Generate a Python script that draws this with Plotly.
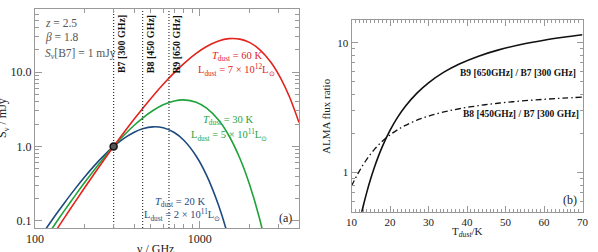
import numpy as np
import plotly.graph_objects as go

# ---------------- data: panel (a) ----------------
freq_ghz = [100, 110, 120, 135, 150, 175, 200, 230, 260, 300, 350, 400, 450, 520,
            600, 700, 800, 950, 1100, 1300, 1500, 1750, 2000, 2300, 2700, 3100, 3500, 4000]
s_60k = [0.02727, 0.03777, 0.05078, 0.07563, 0.1077, 0.1797, 0.2782, 0.4363, 0.6427, 1,
         1.588, 2.338, 3.251, 4.788, 6.869, 9.839, 13.04, 17.84, 22.1, 26.24, 28.21, 27.82,
         25.1, 20.29, 13.61, 8.266, 4.657, 2.095]
s_30k = [0.03579, 0.04916, 0.06551, 0.09615, 0.1348, 0.2182, 0.3268, 0.4905, 0.6887, 1,
         1.446, 1.927, 2.413, 3.046, 3.634, 4.093, 4.228, 3.93, 3.273, 2.262, 1.405, 0.6933,
         0.3119, 0.109, 0.02389]
s_20k = [0.04775, 0.06505, 0.0859, 0.1242, 0.1712, 0.2688, 0.3888, 0.5568, 0.7426, 1,
         1.304, 1.555, 1.731, 1.837, 1.783, 1.538, 1.211, 0.744, 0.4082, 0.1614, 0.05728,
         0.01404]
band_freq = [300, 450, 650]
band_names = ["B7 [300 GHz]", "B8 [450 GHz]", "B9 [650 GHz]"]
norm_freq = [300]
norm_flux = [1.0]

# ---------------- data: panel (b) ----------------
t_dust = [10, 11, 12, 13, 14, 15, 16, 17, 18, 20, 22, 24, 27, 30, 34, 38, 43, 48, 54, 60, 65, 70]
ratio_b9_b7 = [0.2146, 0.298, 0.4085, 0.5464, 0.7108, 0.8999, 1.111, 1.341, 1.588, 2.116,
               2.676, 3.248, 4.101, 4.924, 5.947, 6.875, 7.9, 8.791, 9.706, 10.48, 11.04, 11.54]
ratio_b8_b7 = [0.7895, 0.9022, 1.023, 1.147, 1.272, 1.396, 1.516, 1.633, 1.745, 1.954,
               2.143, 2.313, 2.536, 2.725, 2.935, 3.107, 3.282, 3.424, 3.561, 3.671, 3.748, 3.815]

RED = "#e3231c"
GREEN = "#1fa33a"
BLUE = "#1d4a80"
SERIF = "Liberation Serif"
FRAME = "#999999"

W, H = 598, 252
def px(x):
    return x / W
def py(y):
    return 1 - y / H

fig = go.Figure()

fig.add_trace(go.Scatter(x=freq_ghz[:len(s_20k)], y=s_20k, mode="lines", line=dict(color=BLUE, width=1.6, shape="spline"), xaxis="x", yaxis="y"))
fig.add_trace(go.Scatter(x=freq_ghz[:len(s_30k)], y=s_30k, mode="lines", line=dict(color=GREEN, width=1.6, shape="spline"), xaxis="x", yaxis="y"))
fig.add_trace(go.Scatter(x=freq_ghz[:len(s_60k)], y=s_60k, mode="lines", line=dict(color=RED, width=1.6, shape="spline"), xaxis="x", yaxis="y"))

for f in band_freq:
    fig.add_trace(go.Scatter(x=[f, f], y=[0.08, 70], mode="lines",
                             line=dict(color="#333", width=1.2, dash="1px,2px"), xaxis="x", yaxis="y"))

fig.add_trace(go.Scatter(x=norm_freq, y=norm_flux, mode="markers",
                         marker=dict(symbol="circle", size=7, color="#555", line=dict(color="#111", width=1.5)),
                         xaxis="x", yaxis="y"))

fig.add_trace(go.Scatter(x=t_dust, y=ratio_b9_b7, mode="lines", line=dict(color="#111", width=1.6, shape="spline"),
                         xaxis="x2", yaxis="y2"))
fig.add_trace(go.Scatter(x=t_dust, y=ratio_b8_b7, mode="lines",
                         line=dict(color="#111", width=1.3, shape="spline", dash="6px,3px,1.5px,3px"),
                         xaxis="x2", yaxis="y2"))

axcommon = dict(showline=True, linecolor=FRAME, linewidth=1, mirror="allticks", ticks="inside",
                tickcolor=FRAME, showgrid=False, zeroline=False, automargin=False)

fig.update_layout(
    width=W, height=H, margin=dict(l=0, r=0, t=0, b=0),
    paper_bgcolor="white", plot_bgcolor="white", showlegend=False,
    font=dict(family=SERIF, color="#222", size=12),
    xaxis=dict(type="log", range=[2, np.log10(4000)], domain=[px(35), px(299)], anchor="y",
               tickvals=[100, 1000], ticktext=["100", "1000"], ticklen=7,
               tickfont=dict(family=SERIF, size=12, color="#222"),
               minor=dict(ticks="inside", ticklen=4, tickcolor=FRAME,
                          tickvals=[200, 300, 400, 500, 600, 700, 800, 900, 2000, 3000, 4000]),
               **axcommon),
    yaxis=dict(type="log", range=[np.log10(0.08), np.log10(70)], domain=[1 - 228 / H, 1 - 9.3 / H], anchor="x",
               tickvals=[0.1, 1, 10], ticktext=["0.1", "1.0", "10.0"], ticklen=7,
               tickfont=dict(family=SERIF, size=12, color="#222"),
               minor=dict(ticks="inside", ticklen=4, tickcolor=FRAME,
                          tickvals=[0.2, 0.3, 0.4, 0.5, 0.6, 0.7, 0.8, 0.9, 2, 3, 4, 5, 6, 7, 8, 9,
                                    20, 30, 40, 50, 60, 70]),
               **axcommon),
    xaxis2=dict(type="linear", range=[10, 70], domain=[px(351.5), px(582.5)], anchor="y2",
                tickvals=[10, 20, 30, 40, 50, 60, 70], ticklen=6,
                tickfont=dict(family=SERIF, size=11, color="#222"),
                minor=dict(ticks="inside", ticklen=3, tickcolor=FRAME, dtick=1),
                **axcommon),
    yaxis2=dict(type="log", range=[np.log10(0.5), np.log10(15)], domain=[1 - 211.7 / H, 1 - 20 / H], anchor="x2",
                tickvals=[1, 10], ticktext=["1", "10"], ticklen=6,
                tickfont=dict(family=SERIF, size=11, color="#222"),
                minor=dict(ticks="inside", ticklen=3, tickcolor=FRAME,
                           tickvals=[0.5, 0.6, 0.7, 0.8, 0.9, 2, 3, 4, 5, 6, 7, 8, 9]),
                **axcommon),
)

ann = []
def add(text, x, y, size=11, color="#222", xanchor="center", yanchor="middle", angle=0, xref="paper", yref="paper", xshift=0):
    ann.append(dict(text=text, x=x, y=y, xref=xref, yref=yref, showarrow=False,
                    font=dict(family=SERIF, size=size, color=color),
                    xanchor=xanchor, yanchor=yanchor, textangle=angle, xshift=xshift))

# top-left parameters
add("<i>z</i> = 2.5", px(43), py(22.7), size=11.5, color="#555", xanchor="left")
add("<i>β</i> = 1.8", px(43), py(37.5), size=11.5, color="#555", xanchor="left")
add("<i>S<sub>ν</sub></i>[B7] = 1 mJy", px(43), py(53.5), size=11.5, color="#555", xanchor="left")

# band labels
for f, name in zip(band_freq, band_names):
    add("<b>%s</b>" % name, np.log10(f), py(13), size=10, color="#111", xanchor="center", yanchor="top",
        angle=-90, xref="x", xshift=7.5)

# curve labels
add("<i>T</i><sub>dust</sub> = 60 K", px(236.7), py(57), size=10.5, color=RED)
add("L<sub>dust</sub> = 7 × 10<sup>12</sup>L<sub>⊙</sub>", px(236.7), py(70), size=10.5, color=RED)
add("<i>T</i><sub>dust</sub> = 30 K", px(228), py(120), size=10.5, color=GREEN)
add("L<sub>dust</sub> = 5 × 10<sup>11</sup>L<sub>⊙</sub>", px(229), py(134.5), size=10.5, color=GREEN)
add("<i>T</i><sub>dust</sub> = 20 K", px(180), py(202), size=10.5, color=BLUE)
add("L<sub>dust</sub> = 2 × 10<sup>11</sup>L<sub>⊙</sub>", px(181.5), py(215), size=10.5, color=BLUE)
add("(a)", px(285), py(218), size=12)
add("(b)", px(570), py(200), size=12)

# right panel labels
add("<b>B9 [650GHz] / B7 [300 GHz]</b>", px(517.5), py(73), size=9.5, color="#111")
add("<b>B8 [450GHz] / B7 [300 GHz]</b>", px(521), py(114), size=9.5, color="#111")

# axis titles
add("S<sub>ν</sub> / mJy", px(3), py(118), size=12, angle=-90)
add("ν / GHz", px(155), py(249), size=12)
add("ALMA flux ratio", px(326), py(116), size=11, angle=-90)
add("T<sub><i>dust</i></sub>/K", px(467), py(232), size=11)

fig.update_layout(annotations=ann)
fig.write_html("out.html", config={"displayModeBar": False},
               post_script="document.body.style.margin='0px';document.body.style.padding='0px';")
